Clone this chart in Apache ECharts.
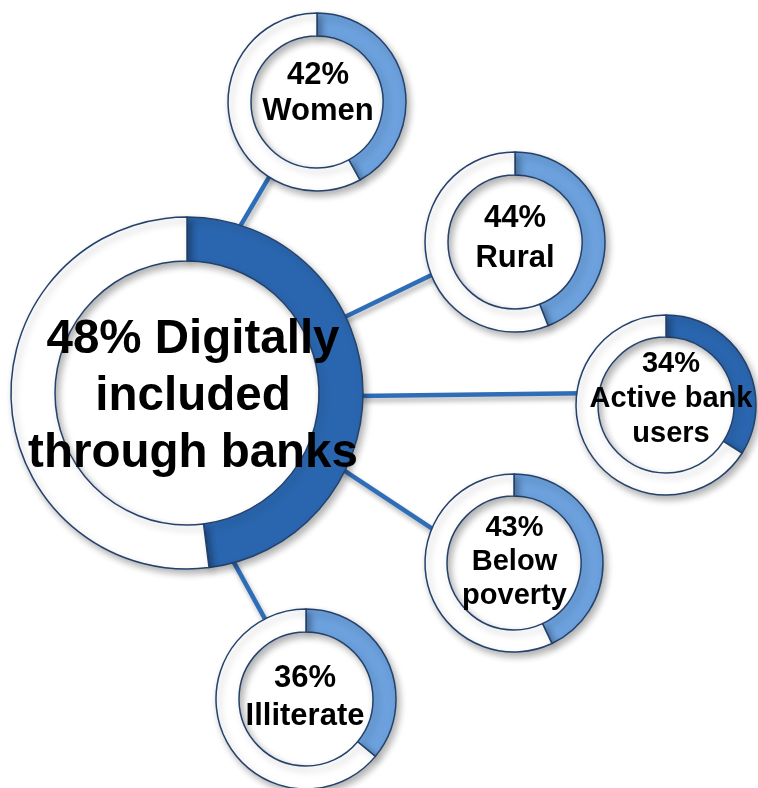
<!DOCTYPE html>
<html>
<head>
<meta charset="utf-8">
<script src="https://cdn.jsdelivr.net/npm/echarts@6/dist/echarts.min.js"></script>
<style>
  html, body { margin: 0; padding: 0; background: #ffffff; }
  #chart { width: 758px; height: 788px; }
</style>
</head>
<body>
<div id="chart"></div>
<script>
// Share of each group that is digitally included (percent)
const groups   = ['Digitally included through banks', 'Women', 'Rural', 'Active bank users', 'Below poverty', 'Illiterate'];
const shares   = [48, 42, 44, 34, 43, 36];
// Caption lines shown inside each ring
const captions = [
  ['Digitally', 'included', 'through banks'],
  ['Women'],
  ['Rural'],
  ['Active bank', 'users'],
  ['Below', 'poverty'],
  ['Illiterate']
];

// Ring layout: centre, inner / outer radius, fill colour, caption font and its offset from the centre
const DARK = '#2A66AF', LIGHT = '#6CA1DD';
const layout = [
  { c: [187, 393], r: [132, 176], fill: DARK,  font: 47.5, lh: 57, off: [6, 3.5] },
  { c: [317, 102], r: [66, 89],   fill: LIGHT, font: 31,   lh: 36, off: [1, -9] },
  { c: [515, 242], r: [67, 90],   fill: LIGHT, font: 31,   lh: 40, off: [0, -3.5] },
  { c: [666, 405], r: [68, 90],   fill: DARK,  font: 29,   lh: 35, off: [5, -6] },
  { c: [514, 563], r: [67, 89],   fill: LIGHT, font: 29,   lh: 34, off: [0.5, -1] },
  { c: [306, 699], r: [67, 90],   fill: LIGHT, font: 31,   lh: 38, off: [-1, -1.5] }
];

// Connectors: angle on the large ring (deg, screen coords) -> angle on satellite ring
const links = [
  { to: 1, a0: -72.7, a1: 122.7 },
  { to: 2, a0: -25.7, a1: 158.7 },
  { to: 3, a0: 1.0,   a1: -172.0 },
  { to: 4, a0: 26.0,  a1: -158.0 },
  { to: 5, a0: 75.0,  a1: -117.0 }
];

function labelText(i) {
  const pct = shares[i] + '%';
  if (i === 0) {
    return [pct + ' ' + captions[i][0]].concat(captions[i].slice(1)).join('\n');
  }
  return [pct].concat(captions[i]).join('\n');
}

const series = groups.map(function (name, i) {
  const L = layout[i];
  return {
    type: 'pie',
    name: name,
    center: L.c,
    radius: L.r,
    startAngle: 90,
    clockwise: true,
    silent: true,
    z: 3,
    label: { show: false },
    labelLine: { show: false },
    itemStyle: {
      borderColor: '#24426C',
      borderWidth: 1.5,
      shadowBlur: 7,
      shadowOffsetX: 3,
      shadowOffsetY: 4,
      shadowColor: 'rgba(0,0,0,0.3)'
    },
    emphasis: { disabled: true },
    data: [
      { name: name, value: shares[i], itemStyle: { color: L.fill } },
      { name: 'rest', value: 100 - shares[i], itemStyle: { color: '#FFFFFF' } }
    ]
  };
});

function onRing(L, deg, inset) {
  const rad = deg * Math.PI / 180;
  const r = L.r[1] - inset;
  return [L.c[0] + r * Math.cos(rad), L.c[1] + r * Math.sin(rad)];
}

const connectors = links.map(function (k) {
  const p0 = onRing(layout[0], k.a0, 6);
  const p1 = onRing(layout[k.to], k.a1, 6);
  return {
    type: 'line',
    z: 1,
    silent: true,
    shape: { x1: p0[0], y1: p0[1], x2: p1[0], y2: p1[1] },
    style: {
      stroke: '#2E6DB7',
      lineWidth: 4.5,
      shadowBlur: 5,
      shadowOffsetX: 2,
      shadowOffsetY: 4,
      shadowColor: 'rgba(0,0,0,0.3)'
    }
  };
});

// Caption texts centred in each ring
const captionsText = groups.map(function (name, i) {
  const L = layout[i];
  return {
    type: 'text',
    z: 10,
    silent: true,
    style: {
      text: labelText(i),
      x: L.c[0] + L.off[0],
      y: L.c[1] + L.off[1],
      align: 'center',
      verticalAlign: 'middle',
      fontFamily: '"Liberation Sans", Arial, sans-serif',
      fontWeight: 'bold',
      fontSize: L.font,
      lineHeight: L.lh,
      fill: '#000000'
    }
  };
});

const chart = echarts.init(document.getElementById('chart'), null, { renderer: 'canvas' });
chart.setOption({
  backgroundColor: '#FFFFFF',
  animation: false,
  graphic: { elements: connectors.concat(captionsText) },
  series: series
});
</script>
</body>
</html>
